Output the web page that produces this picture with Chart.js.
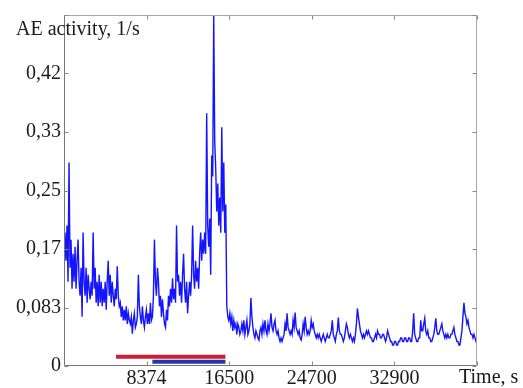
<!DOCTYPE html>
<html><head><meta charset="utf-8">
<script src="https://cdn.jsdelivr.net/npm/chart.js@4/dist/chart.umd.min.js"></script>
<style>html,body{margin:0;padding:0;background:#fff}#wrap{width:523px;height:388px;position:relative}</style>
</head><body><div id="wrap"><canvas id="c"></canvas></div>
<script>
// AE activity (1/s), one reading every SAMPLE_STEP_S seconds
const SAMPLE_STEP_S = 100;
const activity = [
0.13,0.19,0.15,0.20,0.12,0.29,0.14,0.18,0.11,0.16,
0.12,0.17,0.11,0.15,0.18,0.12,0.10,0.14,0.07,0.19,
0.12,0.10,0.14,0.09,0.13,0.11,0.095,0.12,0.10,0.19,
0.11,0.14,0.09,0.12,0.085,0.13,0.09,0.12,0.085,0.11,
0.09,0.12,0.08,0.12,0.15,0.10,0.13,0.09,0.12,0.10,
0.085,0.11,0.095,0.142,0.10,0.085,0.09,0.07,0.085,0.065,
0.08,0.065,0.085,0.06,0.075,0.065,0.06,0.07,0.046,0.065,
0.075,0.055,0.06,0.07,0.13,0.085,0.07,0.06,0.085,0.065,
0.055,0.07,0.08,0.06,0.075,0.06,0.09,0.065,0.07,0.10,
0.18,0.12,0.10,0.14,0.12,0.085,0.10,0.07,0.095,0.075,
0.06,0.055,0.08,0.065,0.10,0.085,0.11,0.09,0.125,0.095,
0.11,0.09,0.20,0.12,0.13,0.10,0.12,0.09,0.13,0.16,
0.11,0.09,0.12,0.075,0.10,0.12,0.10,0.13,0.20,0.13,
0.11,0.15,0.12,0.14,0.11,0.16,0.19,0.15,0.18,0.16,
0.19,0.16,0.36,0.20,0.17,0.21,0.13,0.30,0.27,0.50,
0.32,0.28,0.22,0.26,0.20,0.24,0.19,0.34,0.22,0.29,
0.19,0.23,0.085,0.07,0.065,0.075,0.06,0.07,0.05,0.065,
0.055,0.06,0.045,0.06,0.055,0.045,0.05,0.06,0.05,0.065,
0.045,0.055,0.065,0.045,0.05,0.06,0.097,0.07,0.055,0.045,
0.04,0.05,0.045,0.04,0.037,0.05,0.055,0.045,0.06,0.05,
0.065,0.05,0.045,0.06,0.05,0.06,0.075,0.055,0.05,0.06,
0.065,0.05,0.045,0.05,0.04,0.035,0.04,0.035,0.04,0.045,
0.06,0.05,0.075,0.055,0.05,0.045,0.05,0.045,0.065,0.055,
0.076,0.055,0.05,0.045,0.05,0.04,0.037,0.045,0.06,0.05,
0.07,0.055,0.045,0.05,0.045,0.05,0.065,0.055,0.06,0.05,
0.045,0.04,0.045,0.04,0.045,0.04,0.035,0.04,0.045,0.04,
0.035,0.04,0.045,0.04,0.04,0.045,0.05,0.065,0.045,0.04,
0.035,0.045,0.05,0.069,0.05,0.045,0.045,0.04,0.035,0.04,
0.05,0.06,0.055,0.045,0.04,0.045,0.04,0.035,0.04,0.035,
0.045,0.06,0.082,0.07,0.06,0.05,0.045,0.04,0.045,0.04,
0.045,0.05,0.045,0.05,0.045,0.04,0.04,0.035,0.035,0.04,
0.045,0.04,0.05,0.045,0.045,0.04,0.04,0.045,0.045,0.04,
0.035,0.04,0.05,0.045,0.04,0.035,0.035,0.03,0.03,0.035,
0.035,0.03,0.03,0.035,0.035,0.04,0.04,0.035,0.035,0.04,
0.04,0.035,0.035,0.04,0.04,0.035,0.035,0.05,0.075,0.045,
0.04,0.035,0.035,0.04,0.04,0.065,0.05,0.05,0.06,0.068,
0.05,0.045,0.05,0.04,0.04,0.035,0.035,0.04,0.045,0.055,
0.068,0.05,0.045,0.045,0.05,0.055,0.06,0.05,0.045,0.04,
0.045,0.04,0.045,0.04,0.04,0.045,0.045,0.05,0.055,0.045,
0.04,0.035,0.035,0.03,0.03,0.04,0.05,0.07,0.09,0.075,
0.07,0.06,0.065,0.055,0.05,0.045,0.045,0.04,0.045,0.04,
0.035,0.04,0.045
];
const xTickValues = [8220, 16440, 24660, 32880, 41100];
const xTickLabels = ['8374', '16500', '24700', '32900', ''];
const yTickValues = [0, 1/12, 2/12, 3/12, 4/12, 5/12, 6/12];
const yTickLabels = ['0', '0,083', '0,17', '0,25', '0,33', '0,42', ''];
const redInterval = [5180, 16065];
const redLevel = 0.0131;
const blueInterval = [8795, 16065];
const blueLevel = 0.006;
const yTitle = 'AE activity, 1/s';
const xTitle = 'Time, s';

const FONT = {family: '"Liberation Serif", "Times New Roman", serif', size: 20};
const series = activity.map((v, i) => ({x: i * SAMPLE_STEP_S, y: v}));

const framePlugin = {
  id: 'frame',
  afterDraw(chart) {
    const ctx = chart.ctx, a = chart.chartArea;
    const xs = chart.scales.x, ys = chart.scales.y;
    const L = Math.round(a.left) + 0.5, R = Math.round(a.right) - 0.5;
    const T = Math.round(a.top) + 0.5, B = Math.round(a.bottom) - 0.5;
    ctx.save();
    ctx.lineWidth = 1;
    ctx.strokeStyle = '#a8a8a8';
    ctx.beginPath();
    ctx.moveTo(L, T); ctx.lineTo(R, T); ctx.lineTo(R, B);
    ctx.stroke();
    ctx.strokeStyle = '#777';
    ctx.beginPath();
    ctx.moveTo(L, T); ctx.lineTo(L, B); ctx.lineTo(R, B);
    ctx.stroke();
    ctx.strokeStyle = '#888';
    ctx.beginPath();
    yTickValues.forEach(v => {
      const p = Math.round(ys.getPixelForValue(v)) + 0.5;
      ctx.moveTo(L, p); ctx.lineTo(L + 4, p);
      ctx.moveTo(R, p); ctx.lineTo(R - 4, p);
    });
    xTickValues.forEach(v => {
      const p = Math.round(xs.getPixelForValue(v)) + 0.5;
      ctx.moveTo(p, B); ctx.lineTo(p, B - 4);
      ctx.moveTo(p, T); ctx.lineTo(p, T + 4);
    });
    ctx.stroke();
    ctx.fillStyle = '#1a1a1a';
    ctx.font = FONT.size + 'px ' + FONT.family;
    ctx.textBaseline = 'middle';
    ctx.textAlign = 'left';
    ctx.fillText(yTitle, 16, 30);
    ctx.fillText(xTitle, 459, 378);
    ctx.restore();
  }
};

new Chart(document.getElementById('c'), {
  type: 'line',
  data: {
    datasets: [
      {data: series, borderColor: '#1414ff', borderWidth: 1.4, pointRadius: 0, tension: 0, fill: false},
      {data: [{x: redInterval[0], y: redLevel}, {x: redInterval[1], y: redLevel}], borderColor: '#cc1f35', borderWidth: 4, pointRadius: 0, borderCapStyle: 'butt'},
      {data: [{x: blueInterval[0], y: blueLevel}, {x: blueInterval[1], y: blueLevel}], borderColor: '#2836a8', borderWidth: 4, pointRadius: 0, borderCapStyle: 'butt'}
    ]
  },
  options: {
    responsive: true,
    maintainAspectRatio: false,
    animation: false,
    events: [],
    layout: {padding: {left: 0, right: 46, top: 10, bottom: 0}},
    plugins: {legend: {display: false}, tooltip: {enabled: false}},
    scales: {
      x: {
        type: 'linear', min: 0, max: 41100,
        afterBuildTicks: s => { s.ticks = xTickValues.map(v => ({value: v})); },
        afterFit: s => { s.height = 22; },
        ticks: {callback: (v, i) => xTickLabels[i], font: FONT, color: '#1a1a1a', padding: 1, maxRotation: 0, autoSkip: false},
        grid: {display: false, drawTicks: false},
        border: {display: false}
      },
      y: {
        min: 0, max: 0.5,
        afterBuildTicks: s => { s.ticks = yTickValues.map(v => ({value: v})); },
        afterFit: s => { s.width = 64; },
        ticks: {callback: (v, i) => yTickLabels[i], font: FONT, color: '#1a1a1a', padding: 3, autoSkip: false},
        grid: {display: false, drawTicks: false},
        border: {display: false}
      }
    }
  },
  plugins: [framePlugin]
});
</script></body></html>
